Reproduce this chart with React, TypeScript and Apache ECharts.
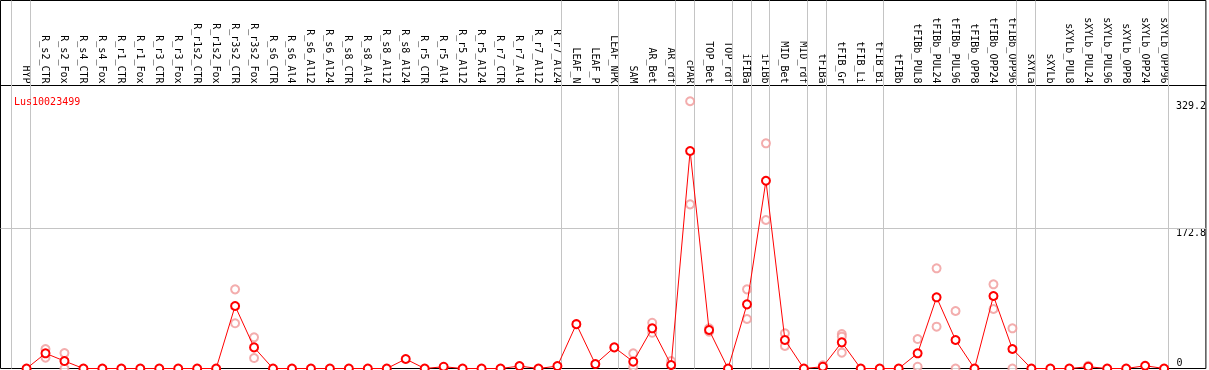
import React, { useEffect, useRef } from "react";
import * as echarts from "echarts";

const categories = [
  "HYP", "R_s2_CTR", "R_s2_Fox", "R_s4_CTR", "R_s4_Fox", "R_r1_CTR", "R_r1_Fox", "R_r3_CTR", "R_r3_Fox",
  "R_r1s2_CTR", "R_r1s2_Fox", "R_r3s2_CTR", "R_r3s2_Fox", "R_s6_CTR", "R_s6_Al4", "R_s6_Al12", "R_s6_Al24",
  "R_s8_CTR", "R_s8_Al4", "R_s8_Al12", "R_s8_Al24", "R_r5_CTR", "R_r5_Al4", "R_r5_Al12", "R_r5_Al24",
  "R_r7_CTR", "R_r7_Al4", "R_r7_Al12", "R_r7_Al24", "LEAF_N", "LEAF_P", "LEAF_NPK", "SAM", "AR_Bet", "AR_rdf",
  "cPAR", "TOP_Bet", "TOP_rdf", "iFIBa", "iFIBb", "MID_Bet", "MID_rdf", "tFIBa", "tFIB_Gr", "tFIB_Li", "tFIB_Bi",
  "tFIBb", "tFIBb_PUL8", "tFIBb_PUL24", "tFIBb_PUL96", "tFIBb_OPP8", "tFIBb_OPP24", "tFIBb_OPP96",
  "sXYLa", "sXYLb", "sXYLb_PUL8", "sXYLb_PUL24", "sXYLb_PUL96", "sXYLb_OPP8", "sXYLb_OPP24", "sXYLb_OPP96",
];

const meanValues = [
  0, 18.7, 9.2, 0, 0, 0, 0, 0, 0, 0, 0, 77, 26, 0, 0, 0, 0, 0, 0, 0, 11.7, 0, 2.2, 0, 0, 0, 3, 0, 3,
  54.6, 5.5, 26, 8.4, 49.5, 4.3, 267.9, 47.4, 0, 79, 231.3, 35.1, 0, 2.2, 32.2, 0, 0,
  0, 18.7, 87.7, 35.1, 0, 89.3, 24, 0, 0, 0, 2.2, 0, 0, 3.4, 0,
];

type N = number | null;
const _ = null;
const replicateA: N[] = [
  _, 24, 19, _, _, _, _, _, _, _, _, 97.5, 38.4, _, _, _, _, _, _, _, _, _, _, _, _, _, _, _, _,
  _, _, _, 18.7, 56.4, 9.2, 329.2, 49.5, _, 97.5, 277.4, 43.3, _, 3.9, 42.5, _, _,
  _, 36.3, 123.4, 70.8, _, 103.7, 49.5, _, _, _, 3.4, _, _, _, _,
];
const replicateB: N[] = [
  _, 13.3, 0, _, _, _, _, _, _, _, _, 55.7, 12.9, _, _, _, _, _, _, _, _, _, _, _, _, _, _, _, _,
  _, _, _, 2, 44, _, 202.2, 45.3, _, 61, 182.9, 27.7, _, _, 19.5, _, _,
  _, 2.2, 51.5, 0, _, 73.3, 0, _, _, _, _, _, _, _, _,
];
const replicateC: N[] = [
  _, _, _, _, _, _, _, _, _, _, _, _, _, _, _, _, _, _, _, _, _, _, _, _, _, _, _, _, _,
  _, _, _, _, _, _, _, _, _, _, _, _, _, _, 39.2, _, _,
  _, _, _, _, _, _, _, _, _, _, _, _, _, _, _,
];

// group separators drawn just after these category indices
const separatorAfter = [-1, 0, 28, 31, 34, 35, 37, 38, 39, 41, 42, 45, 52, 53, 60];

const geneName = "Lus10023499";
const yTicksUpper = [172.8, 329.2];
const yTickZero = 0;
const gridValue = 172.8;

const MONO = "DejaVu Sans Mono";

export default function App() {
  const ref = useRef<HTMLDivElement>(null);
  useEffect(() => {
    document.body.style.margin = "0";
    if (!ref.current) return;
    const chart = echarts.init(ref.current, undefined, { renderer: "svg" });

    const repData: [number, number][] = [];
    [replicateA, replicateB, replicateC].forEach((arr) =>
      arr.forEach((v, i) => {
        if (v !== null) repData.push([i, v]);
      })
    );

    const xMin = -1.3737;
    const xMax = 62.205;
    const yMax = 453.3;
    const sepX = separatorAfter.map((i) => i + 0.2);
    const sepStyle = { color: "#c4c4c4", width: 1, type: "solid" as const };

    chart.setOption({
      animation: false,
      title: {
        text: geneName,
        left: 9,
        top: 91,
        textStyle: { color: "#ff0000", fontSize: 10, fontWeight: "normal", fontFamily: MONO },
      },
      grid: {
        left: 0.5,
        right: 0.5,
        top: 0.5,
        bottom: 1.5,
        show: true,
        borderColor: "#000",
        borderWidth: 1,
        backgroundColor: "transparent",
      },
      xAxis: {
        type: "value",
        min: xMin,
        max: xMax,
        position: "top",
        offset: -85,
        axisLine: { show: true, onZero: false, lineStyle: { color: "#000", width: 1 } },
        axisTick: { show: false },
        splitLine: { show: false },
        axisLabel: {
          customValues: categories.map((c, i) => i),
          rotate: 90,
          margin: 2,
          fontSize: 10,
          fontFamily: MONO,
          color: "#000",
          formatter: (v: number) => categories[Math.round(v)] ?? "",
        },
      },
      yAxis: {
        type: "value",
        min: 0,
        max: yMax,
        position: "right",
        axisLine: { show: false },
        axisTick: { show: false },
        splitLine: { show: false },
        axisLabel: {
          customValues: yTicksUpper,
          inside: false,
          align: "left",
          verticalAlign: "middle",
          margin: -30,
          fontSize: 10,
          fontFamily: MONO,
          color: "#000",
          formatter: (v: number) => "{u|" + v.toFixed(1) + "}",
          rich: {
            u: { fontSize: 10, fontFamily: MONO, color: "#000", padding: [8, 0, 0, 0] },
          },
        },
      },
      series: [
        {
          type: "scatter",
          name: "replicates",
          data: repData,
          symbol: "emptyCircle",
          symbolSize: 8,
          itemStyle: { color: "#f09898", borderWidth: 1.3 },
          z: 2,
          silent: true,
        },
        {
          type: "line",
          name: "mean",
          data: meanValues.map((v, i) => [i, v]),
          symbol: "emptyCircle",
          symbolSize: 8,
          itemStyle: { color: "#ff0000", borderWidth: 1.4 },
          lineStyle: { color: "#ff0000", width: 1 },
          z: 3,
          markLine: {
            silent: true,
            symbol: "none",
            label: { show: false },
            lineStyle: sepStyle,
            data: [...sepX.map((x) => ({ xAxis: x })), { yAxis: gridValue }],
            z: 1,
          },
        },
      ],
    });

    // zero tick label placed through the library's own scales
    const zeroY = chart.convertToPixel({ yAxisIndex: 0 }, yTickZero) as number;
    const rightX = chart.convertToPixel({ xAxisIndex: 0 }, xMax) as number;
    chart.setOption({
      graphic: [
        {
          type: "text",
          x: rightX - 29.5,
          y: zeroY - 1,
          silent: true,
          style: {
            text: String(yTickZero),
            fontSize: 10,
            fontFamily: MONO,
            fill: "#000",
            align: "left",
            verticalAlign: "bottom",
          },
        },
      ],
    });
    return () => chart.dispose();
  }, []);

  return (
    <div
      ref={ref}
      style={{ position: "fixed", left: 0, top: 0, width: 1209, height: 370 }}
    />
  );
}
